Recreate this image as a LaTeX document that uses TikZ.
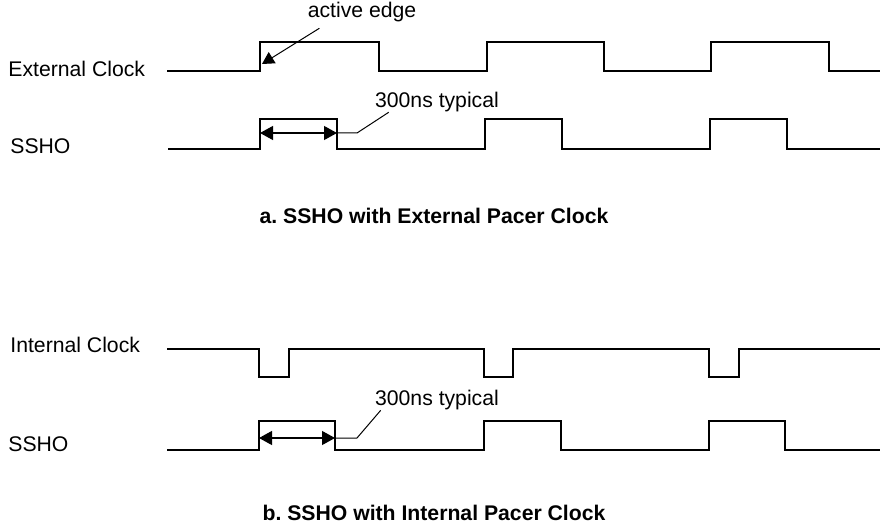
\documentclass[tikz,border=0pt]{standalone}
\usepackage{fontspec}
\setmainfont{Liberation Sans}
\frenchspacing
\usetikzlibrary{arrows.meta,positioning,calc}
\tikzset{
  wave/.style={line width=1.4pt,line join=miter},
  sig/.style={anchor=west,inner sep=0pt,font=\fontsize{10.6}{12}\selectfont},
  note/.style={inner sep=0pt,font=\fontsize{10.6}{12}\selectfont},
  caption/.style={inner sep=0pt,font=\fontsize{10.6}{12}\selectfont\bfseries},
  leader/.style={line width=0.5pt},
  span/.style={{Triangle[length=6.5pt,width=7pt]}-{Triangle[length=6.5pt,width=7pt]},line width=0.6pt},
  pointer/.style={-{Triangle[length=6pt,width=6.5pt]},line width=0.5pt},
}

\begin{document}
\begin{tikzpicture}[x=0.5pt,y=-0.5pt]
\useasboundingbox (0,0) rectangle (883,524);

% a. external pacer clock
\node[sig] (extlbl) at (8,69) {External Clock};
\node[sig] (sshoalbl) at (10,146) {SSHO};
\draw[wave] (167,71) -- (260,71) |- (379,42) |- (487,71) |- (604,42) |- (711,71) |- (829,42) |- (880,71);
\draw[wave] (168,149) -- (260,149) |- (337,119) |- (485,149) |- (562,119) |- (710,149) |- (787,119) |- (880,149);

\node[note] (edge) at (362,12) {active edge};
\coordinate (edgetip) at (262,64);
\draw[pointer] ($(edge.south west)+(12,6)$) -- (edgetip);

\coordinate (arise) at (260,133);
\coordinate (afall) at (337,133);
\draw[span] (arise) -- (afall);
\node[note] (atyp) at (437,102) {300ns typical};
\draw[leader] (afall) -- ++(20,0) -- ($(atyp.south west)+(14,0)$);

\node[caption] (capa) at (434,216) {a. SSHO with External Pacer Clock};

% b. internal pacer clock
\node[sig] (intlbl) at (10,345) {Internal Clock};
\node[sig] (sshoblbl) at (8,444) {SSHO};
\draw[wave] (167,349) -- (259,349) |- (289,377) |- (484,349) |- (513,377) |- (709,349) |- (739,377) |- (880,349);
\draw[wave] (167,450) -- (259,450) |- (335,421) |- (484,450) |- (561,421) |- (709,450) |- (785,421) |- (880,450);

\coordinate (brise) at (259,438);
\coordinate (bfall) at (335,438);
\draw[span] (brise) -- (bfall);
\node[note] (btyp) at (437,400) {300ns typical};
\draw[leader] (bfall) -- ++(22,0) -- ($(btyp.south west)+(6,0)$);

\node[caption] (capb) at (434,513) {b. SSHO with Internal Pacer Clock};
\end{tikzpicture}
\end{document}
